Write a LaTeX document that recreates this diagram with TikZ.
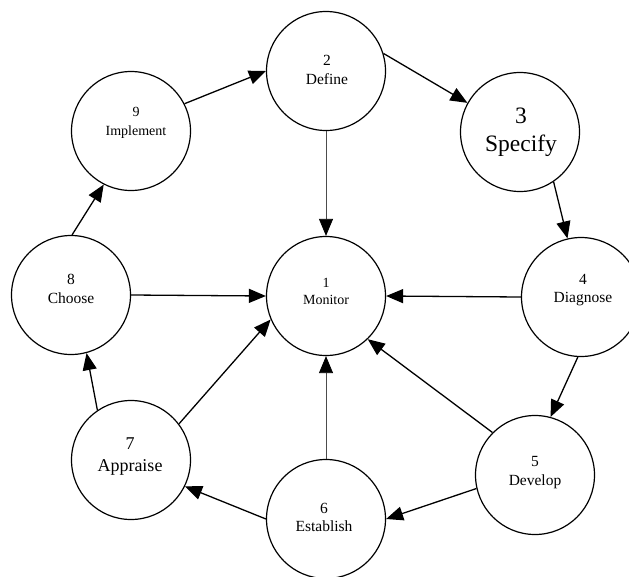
\documentclass[tikz,border=0pt]{standalone}
\usepackage{fontspec}
\setmainfont{Liberation Serif}
\usetikzlibrary{arrows.meta}
\begin{document}
\begin{tikzpicture}[x=1pt,y=-1pt,
  stage/.style={circle,draw,line width=1.2pt,minimum size=119pt,inner sep=0pt},
  caption/.style={align=center,inner sep=0pt},
  flow/.style={line width=1.3pt,-{Triangle[length=17pt,width=14pt]}},
  thinflow/.style={line width=0.8pt,draw=black!70,-{Triangle[length=17pt,width=14pt,color=black]}},
]
\useasboundingbox (0,0) rectangle (629,576);
\clip (0,0) rectangle (629,576);

% the nine stages of the cycle
\node[stage] (mon) at (326,296) {};
\node[stage] (def) at (326,71) {};
\node[stage] (spec) at (520,132) {};
\node[stage] (dia) at (581,297) {};
\node[stage] (dev) at (535,475) {};
\node[stage] (est) at (326,519) {};
\node[stage] (app) at (131,460) {};
\node[stage] (cho) at (71,295) {};
\node[stage] (imp) at (131,131) {};

% stage captions
\node[caption,font=\fontsize{14}{17}\selectfont] (mon-t) at (326,291) {1\\Monitor};
\node[caption,font=\fontsize{15.5}{19.5}\selectfont] (def-t) at (327,70) {2\\Define};
\node[caption,font=\fontsize{23.5}{28}\selectfont] (spec-t) at (521,132) {3\\Specify};
\node[caption,font=\fontsize{15.5}{18}\selectfont] (dia-t) at (583,290) {4\\Diagnose};
\node[caption,font=\fontsize{15.5}{19}\selectfont] (dev-t) at (535,473) {5\\Develop};
\node[caption,font=\fontsize{15.5}{18}\selectfont] (est-t) at (324,517) {6\\Establish};
\node[caption,font=\fontsize{18}{22}\selectfont] (app-t) at (130,457) {7\\Appraise};
\node[caption,font=\fontsize{15.5}{19}\selectfont] (cho-t) at (71,289) {8\\Choose};
\node[caption,font=\fontsize{14}{19}\selectfont] (imp-t) at (136,123) {9\\Implement};

% connectors around the cycle
\draw[flow] (imp.27) -- (def.180);
\draw[flow] (def.17) -- (spec.151);
\draw[flow] (spec.-56) -- (dia.103);
\draw[flow] (dia.-93) -- (dev.75);
\draw[flow] (dev.-167) -- (est.0);
\draw[flow] (est.180) -- (app.-26);
\draw[flow] (app.124) -- (cho.-75);
\draw[flow] (cho.89) -- (imp.-117);

% connectors into Monitor
\draw[thinflow] (def.270) -- (mon.90);
\draw[flow] (dia.180) -- (mon.0);
\draw[flow] (dev.135) -- (mon.-46);
\draw[thinflow] (est.90) -- (mon.270);
\draw[flow] (app.37) -- (mon.-157);
\draw[flow] (cho.0) -- (mon.180);
\end{tikzpicture}
\end{document}
